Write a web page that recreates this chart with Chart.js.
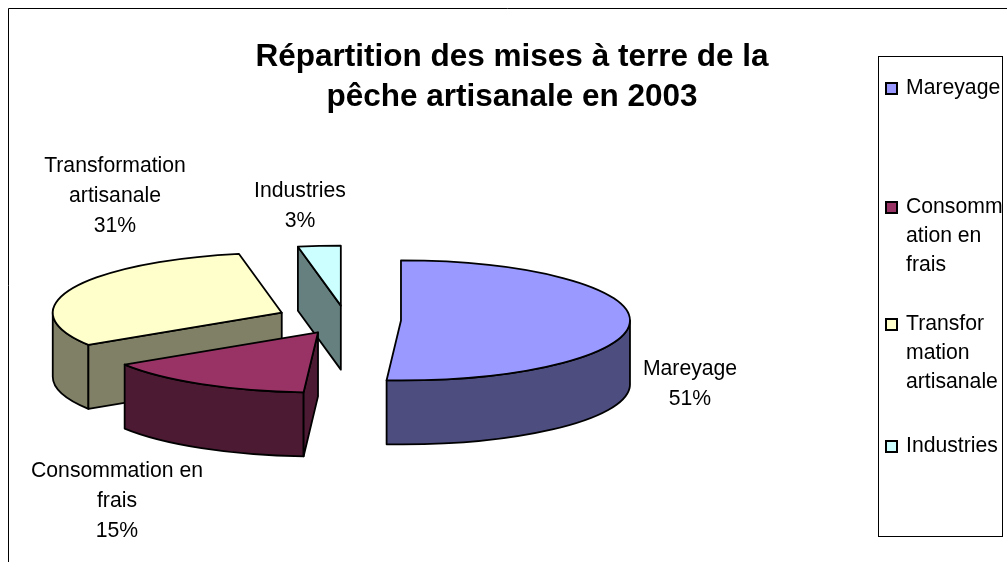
<!DOCTYPE html>
<html lang="fr">
<head>
<meta charset="utf-8">
<title>Répartition des mises à terre</title>
<script src="https://cdn.jsdelivr.net/npm/chart.js@4"></script>
<style>
    html, body { margin: 0; padding: 0; background: #ffffff; overflow: hidden; }
    canvas { display: block; }
</style>
</head>
<body>
<canvas id="pie-chart" width="1007" height="562"></canvas>
<script>
// Data
const titleLines = ['Répartition des mises à terre de la', 'pêche artisanale en 2003'];
const categories = ['Mareyage', 'Consommation en frais', 'Transformation artisanale', 'Industries'];
const shares = [51, 15, 31, 3];
const labelLines = [['Mareyage'], ['Consommation en', 'frais'], ['Transformation', 'artisanale'], ['Industries']];
const legendLines = [['Mareyage'], ['Consomm', 'ation en', 'frais'], ['Transfor', 'mation', 'artisanale'], ['Industries']];

// Colours
const topColors = ['#9999ff', '#993366', '#ffffcc', '#ccffff'];
const wallColors = ['#4d4d80', '#4d1a33', '#808066', '#668080'];

// Pie geometry (flattened "3D" look, exploded slices)
const pieCenter = { x: 346, y: 320 };
const flatten = 0.262;
const depth = 64;
const explode = [55, 55, 70, 55];
const FONT = '"Liberation Sans", Arial, sans-serif';
const labelPos = [
    { x: 690, y: 369 },
    { x: 117, y: 471 },
    { x: 115, y: 166 },
    { x: 300, y: 191 }
];
const legendPos = [88, 207, 324, 446];

function strokeFill(ctx, fill) {
    ctx.fillStyle = fill;
    ctx.fill();
    ctx.stroke();
}

function drawSlice(ctx, arc, i) {
    const { startAngle, endAngle, outerRadius, x, y } = arc.getProps(['startAngle', 'endAngle', 'outerRadius', 'x', 'y'], true);
    const mid = (startAngle + endAngle) / 2;
    const cx = pieCenter.x + Math.cos(mid) * explode[i];
    const cy = pieCenter.y + Math.sin(mid) * explode[i] * flatten;
    const ry = outerRadius * flatten;
    const px = a => cx + Math.cos(a) * outerRadius;
    const py = a => cy + Math.sin(a) * ry;

    ctx.save();
    ctx.lineWidth = 1.8;
    ctx.strokeStyle = '#000000';
    ctx.lineJoin = 'round';

    // outer rim, only the part facing the viewer
    const rimStart = Math.max(startAngle, 0);
    const rimEnd = Math.min(endAngle, Math.PI);
    if (rimEnd > rimStart) {
        ctx.beginPath();
        ctx.ellipse(cx, cy, outerRadius, ry, 0, rimStart, rimEnd);
        ctx.lineTo(px(rimEnd), py(rimEnd) + depth);
        ctx.ellipse(cx, cy + depth, outerRadius, ry, 0, rimEnd, rimStart, true);
        ctx.closePath();
        strokeFill(ctx, wallColors[i]);
    }

    // cut faces
    [[startAngle, Math.cos(startAngle) < -0.001], [endAngle, Math.cos(endAngle) > 0.001]].forEach(([a, visible]) => {
        if (!visible) return;
        ctx.beginPath();
        ctx.moveTo(cx, cy);
        ctx.lineTo(px(a), py(a));
        ctx.lineTo(px(a), py(a) + depth);
        ctx.lineTo(cx, cy + depth);
        ctx.closePath();
        strokeFill(ctx, wallColors[i]);
    });

    // top face, the library arc squashed into place
    ctx.save();
    ctx.translate(cx, cy);
    ctx.scale(1, flatten);
    ctx.translate(-x, -y);
    arc.draw(ctx);
    ctx.restore();

    // outline separately, so the line width stays even
    ctx.beginPath();
    ctx.moveTo(cx, cy);
    ctx.ellipse(cx, cy, outerRadius, ry, 0, startAngle, endAngle);
    ctx.closePath();
    ctx.stroke();
    ctx.restore();
}

const pie3d = {
    id: 'pie3d',
    beforeDatasetsDraw(chart) {
        const { ctx } = chart;
        const arcs = chart.getDatasetMeta(0).data;
        // back slices first
        for (let i = arcs.length - 1; i >= 0; i--) {
            drawSlice(ctx, arcs[i], i);
        }
        return false;
    },
    afterDraw(chart) {
        const { ctx } = chart;
        ctx.save();
        ctx.fillStyle = '#000000';
        ctx.textBaseline = 'middle';
        ctx.font = '21.2px ' + FONT;

        // data labels
        ctx.textAlign = 'center';
        categories.forEach((c, i) => {
            const lines = labelLines[i].concat(shares[i] + '%');
            lines.forEach((line, n) => ctx.fillText(line, labelPos[i].x, labelPos[i].y + n * 30));
        });

        // outer frame
        ctx.strokeStyle = '#000000';
        ctx.lineWidth = 1;
        ctx.beginPath();
        ctx.moveTo(1007, 8.5);
        ctx.lineTo(8.5, 8.5);
        ctx.lineTo(8.5, 562);
        ctx.stroke();

        // legend
        ctx.strokeRect(878.5, 56.5, 124, 480);
        ctx.textAlign = 'left';
        categories.forEach((c, i) => {
            ctx.fillStyle = topColors[i];
            ctx.lineWidth = 2;
            ctx.fillRect(886, legendPos[i] - 5, 11, 11);
            ctx.strokeRect(886, legendPos[i] - 5, 11, 11);
            ctx.save();
            ctx.beginPath();
            ctx.rect(879, 57, 123, 479);
            ctx.clip();
            ctx.fillStyle = '#000000';
            legendLines[i].forEach((line, n) => ctx.fillText(line, 906, legendPos[i] + n * 29));
            ctx.restore();
        });
        ctx.restore();
    }
};

new Chart(document.getElementById('pie-chart').getContext('2d'), {
    type: 'pie',
    data: {
        labels: categories,
        datasets: [{
            data: shares,
            backgroundColor: topColors,
            borderWidth: 0
        }]
    },
    options: {
        responsive: false,
        animation: false,
        radius: 229,
        layout: { padding: { left: 17 } },
        plugins: {
            legend: { display: false },
            tooltip: { enabled: false },
            title: {
                display: true,
                text: titleLines,
                color: '#000000',
                font: { family: FONT, size: 31.5, weight: 'bold', lineHeight: 1.25 },
                padding: { top: 38, bottom: 0 }
            }
        }
    },
    plugins: [pie3d]
});
</script>
</body>
</html>
